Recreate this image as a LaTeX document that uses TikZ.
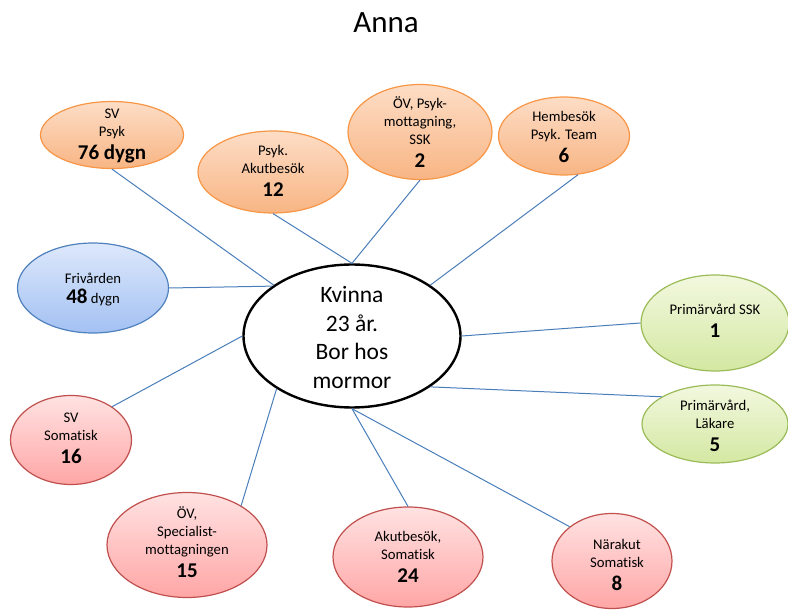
\documentclass[tikz,border=0pt]{standalone}
\usepackage{fontspec}
\setmainfont{Carlito}[Ligatures=NoCommon]
\usetikzlibrary{shapes.geometric}

\definecolor{orEdge}{HTML}{F79646}
\definecolor{orTop}{HTML}{FDDDC6}
\definecolor{orBot}{HTML}{F8B584}
\definecolor{blEdge}{HTML}{4F81BD}
\definecolor{blTop}{HTML}{DDE8FB}
\definecolor{blBot}{HTML}{A3C1F3}
\definecolor{rdEdge}{HTML}{C0504D}
\definecolor{rdTop}{HTML}{FFE2E2}
\definecolor{rdBot}{HTML}{FFA6A6}
\definecolor{grEdge}{HTML}{9BBB59}
\definecolor{grTop}{HTML}{F2F8DF}
\definecolor{grBot}{HTML}{D4E8A2}
\definecolor{linkBlue}{HTML}{4A7EBB}

\newcommand\bignum[1]{{\fontsize{21}{18}\selectfont\bfseries #1}}

\begin{document}
\begin{tikzpicture}[x=1pt,y=-1pt,
  bubble/.style={ellipse, line width=1.2pt, inner sep=0pt},
  orangebub/.style={bubble, draw=orEdge, top color=orTop, bottom color=orBot},
  bluebub/.style={bubble, draw=blEdge, top color=blTop, bottom color=blBot},
  redbub/.style={bubble, draw=rdEdge, top color=rdTop, bottom color=rdBot},
  greenbub/.style={bubble, draw=grEdge, top color=grTop, bottom color=grBot},
  hubstyle/.style={ellipse, draw=black, line width=2.4pt, fill=white, inner sep=0pt},
  txt/.style={align=center, inner sep=0pt, text=black, font=\fontsize{14.7}{18}\selectfont},
  conn/.style={draw=linkBlue, line width=1pt}
]
\useasboundingbox (0,0) rectangle (788,612);

% title
\node[anchor=base, font=\fontsize{31}{36}\selectfont, text=black] (title) at (386,33) {Anna};

% central person
\node[hubstyle, minimum width=217pt, minimum height=143pt] (hub) at (352,336) {};
\node[align=center, inner sep=0pt, font=\fontsize{23.5}{28.7}\selectfont, text=black] (hubtxt) at (352,337.5)
  {Kvinna\\23 år.\\Bor hos\\mormor};

% psychiatric care
\node[orangebub, minimum width=143pt, minimum height=67pt] (svp) at (112,135) {};
\node[txt] (svptxt) at (112,136) {SV\\Psyk\\[5pt]\bignum{76 dygn}};

\node[orangebub, minimum width=150pt, minimum height=82pt] (pak) at (273,172) {};
\node[txt] (paktxt) at (273,170.5) {Psyk.\\Akutbesök\\[5pt]\bignum{12}};

\node[orangebub, minimum width=144pt, minimum height=95pt] (ovp) at (420,132) {};
\node[txt] (ovptxt) at (420,132) {ÖV, Psyk-\\mottagning,\\SSK\\[5pt]\bignum{2}};

\node[orangebub, minimum width=131pt, minimum height=78pt] (hb) at (564,136) {};
\node[txt] (hbtxt) at (564,137) {Hembesök\\Psyk. Team\\[5pt]\bignum{6}};

% correctional care
\node[bluebub, minimum width=151pt, minimum height=90pt] (friv) at (93,288) {};
\node[txt] (frivtxt) at (93,290) {Frivården\\[2pt]{\fontsize{21}{18}\selectfont\bfseries 48} dygn};

% primary care
\node[greenbub, minimum width=148pt, minimum height=96pt] (pvs) at (715,323) {};
\node[txt] (pvstxt) at (715,321) {Primärvård SSK\\[5pt]\bignum{1}};

\node[greenbub, minimum width=146pt, minimum height=78pt] (pvl) at (715,424) {};
\node[txt] (pvltxt) at (715,425.5) {Primärvård,\\Läkare\\[5pt]\bignum{5}};

% somatic care
\node[redbub, minimum width=121pt, minimum height=89pt] (svs) at (71,440) {};
\node[txt] (svstxt) at (71,438) {SV\\Somatisk\\[5pt]\bignum{16}};

\node[redbub, minimum width=160pt, minimum height=105pt] (ovs) at (187,545) {};
\node[txt] (ovstxt) at (187,542.5) {ÖV,\\Specialist-\\mottagningen\\[5pt]\bignum{15}};

\node[redbub, minimum width=150pt, minimum height=100pt] (aks) at (408,557) {};
\node[txt] (akstxt) at (408,557) {Akutbesök,\\Somatisk\\[5pt]\bignum{24}};

\node[redbub, minimum width=120pt, minimum height=95pt] (nk) at (612,561) {};
\node[txt] (nktxt) at (617,565) {Närakut\\Somatisk\\[5pt]\bignum{8}};

% connectors to the central person
\draw[conn] (svp.south) -- (hub.147);
\draw[conn] (pak.south) -- (hub.north);
\draw[conn] (ovp.south) -- (hub.north);
\draw[conn] (hb.-70) -- (hub.33);
\draw[conn] (friv.east) -- (hub.148);
\draw[conn] (pvs.west) -- (hub.east);
\draw[conn] (pvl.153) -- (hub.-33);
\draw[conn] (svs.39) -- (hub.west);
\draw[conn] (ovs.36) -- (hub.215);
\draw[conn] (aks.north) -- (hub.south);
\draw[conn] (nk.141) -- (hub.south);
\end{tikzpicture}
\end{document}
